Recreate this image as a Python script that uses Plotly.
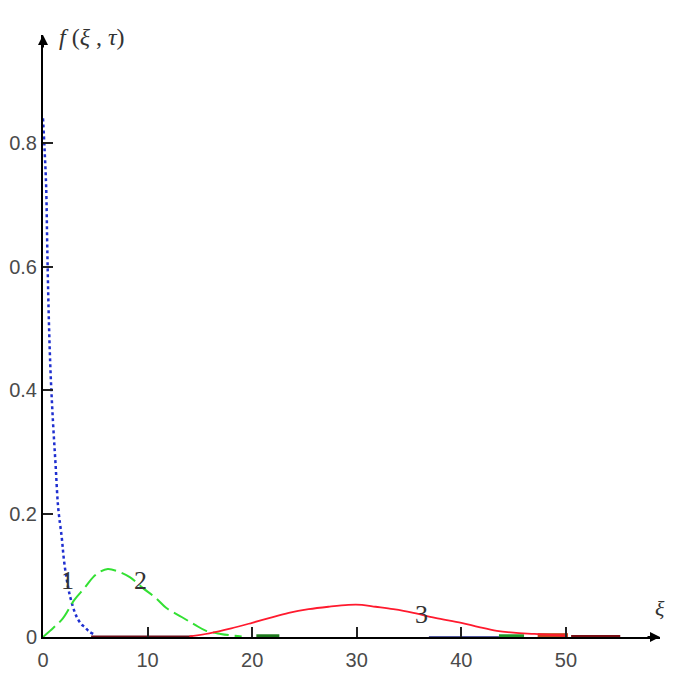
import plotly.graph_objects as go

# Curve 1 (blue, dotted)
xi_1 = [0, 0.15, 0.3, 0.42, 0.55, 0.72, 0.95, 1.2, 1.45, 1.8, 2.0, 2.3, 2.6, 3.0, 3.3, 3.7, 4.0, 4.4, 4.8]
f_1 = [0.84, 0.79, 0.73, 0.62, 0.52, 0.43, 0.35, 0.28, 0.21, 0.16, 0.125, 0.09, 0.065, 0.042, 0.03, 0.02, 0.016, 0.009, 0.005]

# Curve 2 (green, dashed)
xi_2 = [0, 1.0, 1.9, 3.0, 4.0, 4.8, 5.5, 6.2, 7.2, 8.3, 9.5, 10.8, 11.8, 13.3, 14.5, 15.6, 17.0, 17.8, 19.0]
f_2 = [0, 0.015, 0.03, 0.06, 0.08, 0.097, 0.106, 0.11, 0.106, 0.097, 0.08, 0.063, 0.047, 0.032, 0.02, 0.01, 0.005, 0.003, 0.001]

# Curve 3 (red, solid)
xi_3 = [14, 15.9, 18, 20, 21.7, 23.5, 25.4, 27.3, 29.2, 30.5, 31.8, 33.5, 35.2, 37.5, 40, 41.7, 43.4, 45, 47, 49, 50]
f_3 = [0.001, 0.006, 0.014, 0.023, 0.031, 0.039, 0.045, 0.049, 0.052, 0.052, 0.049, 0.045, 0.040, 0.031, 0.023, 0.016, 0.010, 0.007, 0.005, 0.003, 0.002]

# Near-zero segments along the axis
seg_start = [4.6, 20.4, 36.9, 43.6, 47.3, 50.5]
seg_end = [14.3, 22.6, 43.6, 46.0, 50.2, 55.2]
seg_level = [0.0, 0.002, 0.0, 0.002, 0.003, 0.001]
seg_color = ["#6b0f1a", "#1e7a1e", "#1a237e", "#1e9a2a", "#c8441a", "#7a0f14"]
seg_width = [3, 3, 1.5, 3, 4, 3]

# Curve labels
label_text = ["1", "2", "3"]
label_xi = [2.3, 9.3, 36.2]
label_f = [0.092, 0.092, 0.037]

x_ticks = [0, 10, 20, 30, 40, 50]
y_ticks = [0, 0.2, 0.4, 0.6, 0.8]
y_tick_labels = ["0", "0.2", "0.4", "0.6", "0.8"]

fig = go.Figure()

for s, e, lv, c, w in zip(seg_start, seg_end, seg_level, seg_color, seg_width):
    fig.add_trace(go.Scatter(x=[s, e], y=[lv, lv], mode="lines",
                             line=dict(color=c, width=w), hoverinfo="skip"))

fig.add_trace(go.Scatter(x=xi_1, y=f_1, mode="lines", line_shape="spline",
                         line=dict(color="#1f2fd0", width=2.5, dash="dot")))
fig.add_trace(go.Scatter(x=xi_2, y=f_2, mode="lines", line_shape="spline",
                         line=dict(color="#33e033", width=2, dash="16px,6px")))
fig.add_trace(go.Scatter(x=xi_3, y=f_3, mode="lines", line_shape="spline",
                         line=dict(color="#ff1a2e", width=1.8)))

for t, xv, yv in zip(label_text, label_xi, label_f):
    fig.add_annotation(x=xv, y=yv, text=t, showarrow=False,
                       font=dict(family="Liberation Serif", size=26, color="#333333"))

# Axis labels
fig.add_annotation(xref="paper", yref="paper", x=0, y=1, xanchor="left", yanchor="middle",
                   xshift=14, yshift=-2,
                   text="<i>f</i> (<i>ξ</i> , <i>τ</i>)", showarrow=False,
                   font=dict(family="Liberation Serif", size=24, color="#333333"))
fig.add_annotation(xref="paper", yref="paper", x=1, y=0, xanchor="center", yanchor="bottom",
                   xshift=0, yshift=14,
                   text="<i>ξ</i>", showarrow=False,
                   font=dict(family="Liberation Serif", size=22, color="#333333"))

# Axis arrows
fig.add_annotation(xref="paper", yref="paper", x=1, y=0, ax=-14, ay=0, text="",
                   showarrow=True, arrowhead=2, arrowsize=1, arrowwidth=2, arrowcolor="black")
fig.add_annotation(xref="paper", yref="paper", x=0, y=1, ax=0, ay=14, text="",
                   showarrow=True, arrowhead=2, arrowsize=1, arrowwidth=2, arrowcolor="black")

tick_font = dict(family="Liberation Sans", size=20, color="#4a4a4a")

fig.update_layout(
    width=666, height=665,
    margin=dict(l=35, r=14, t=27, b=36, autoexpand=False),
    paper_bgcolor="white", plot_bgcolor="white",
    showlegend=False,
    xaxis=dict(range=[0, 59], tickvals=x_ticks, ticks="inside", ticklen=10, tickwidth=2,
               tickcolor="#222222", showline=True, linecolor="black", linewidth=2,
               showgrid=False, zeroline=False, automargin=False, ticklabelstandoff=4,
               tickfont=tick_font),
    yaxis=dict(range=[0, 0.975], tickvals=y_ticks, ticktext=y_tick_labels, ticks="inside",
               ticklen=10, tickwidth=2, tickcolor="#222222", showline=True, linecolor="black",
               linewidth=2, showgrid=False, zeroline=False, automargin=False,
               tickfont=tick_font),
)

fig.write_html("out.html")
